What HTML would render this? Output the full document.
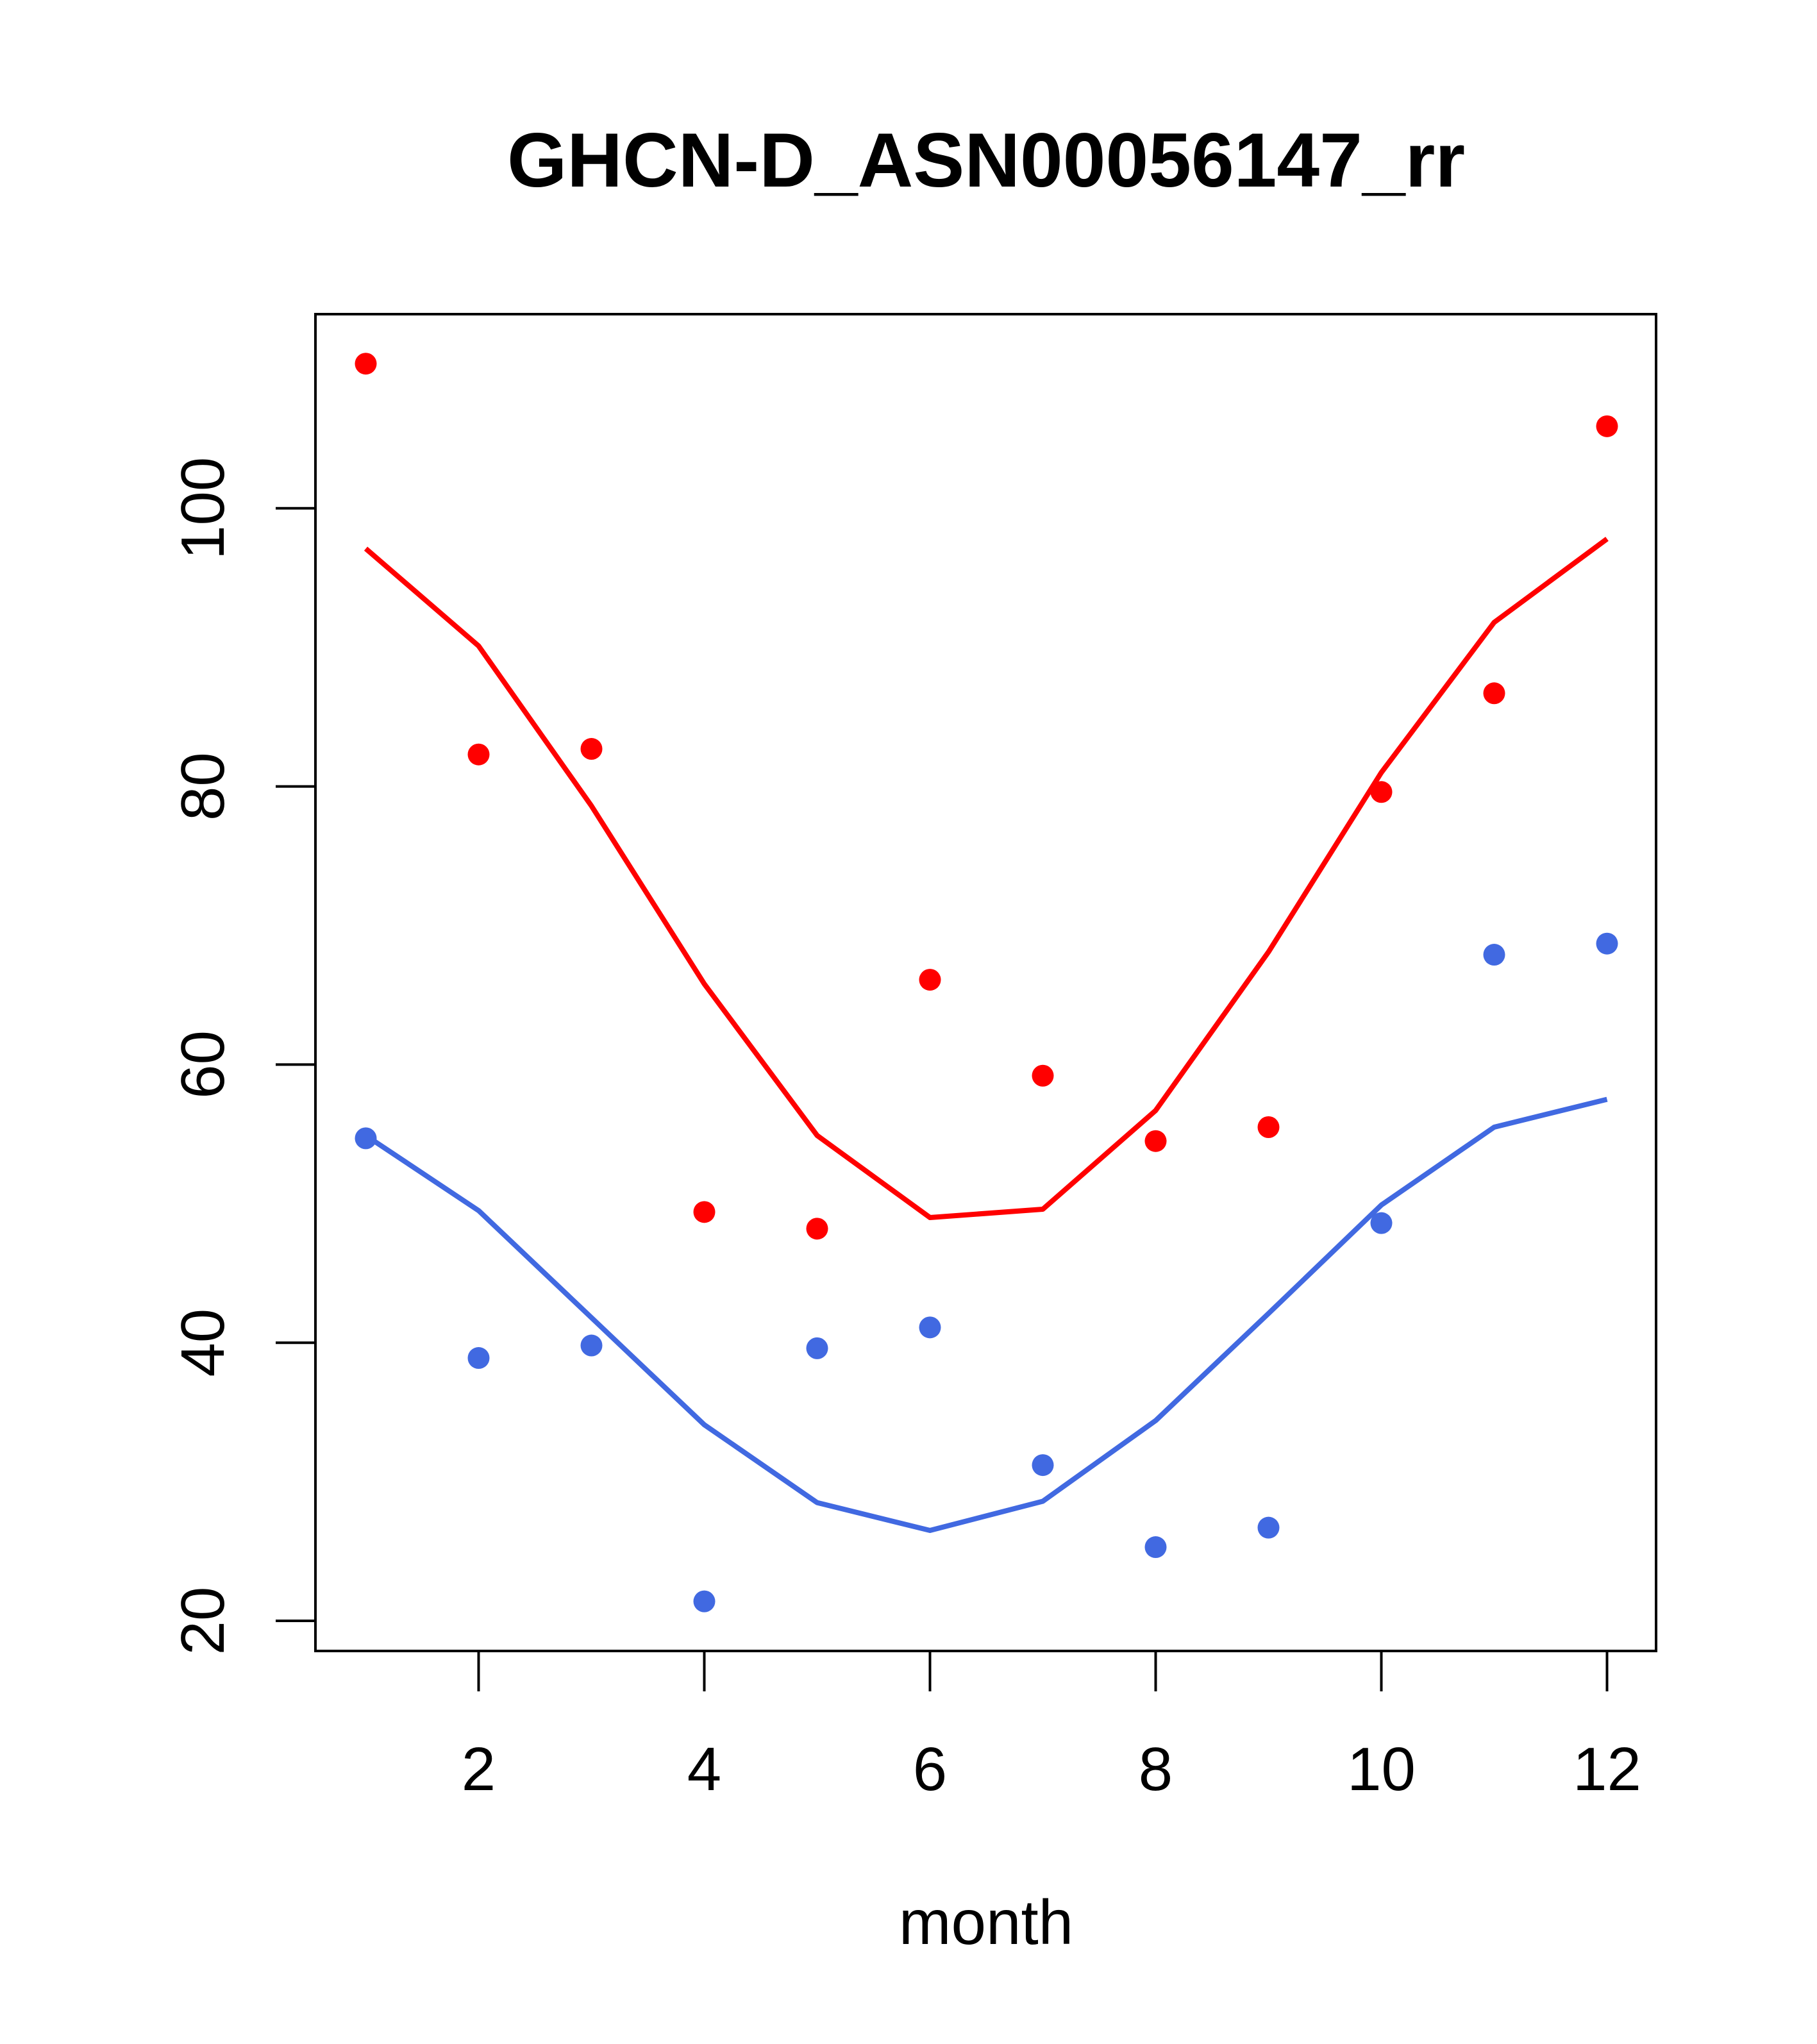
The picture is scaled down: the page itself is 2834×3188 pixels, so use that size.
<!DOCTYPE html>
<html><head><meta charset="utf-8"><style>
html,body{margin:0;padding:0;background:#fff;}
svg{display:block;font-family:"Liberation Sans",Arial,sans-serif;}
</style></head>
<body>
<svg id="chart" width="2834" height="3188" viewBox="0 0 2834 3188" xmlns="http://www.w3.org/2000/svg">
<rect width="2834" height="3188" fill="#fff"/>
<text x="1538" y="291" text-anchor="middle" font-size="120" font-weight="bold">GHCN-D_ASN00056147_rr</text>
<rect x="492" y="490" width="2091" height="2085" fill="none" stroke="#000" stroke-width="4"/>
<text x="1538" y="3032" text-anchor="middle" font-size="98">month</text>
<g id="marks"></g>
</svg>
<script>
const months=[1,2,3,4,5,6,7,8,9,10,11,12];
const redPoints=[110.4,82.3,82.7,49.4,48.2,66.1,59.2,54.5,55.5,79.6,86.7,105.9];
const redLine=[97.1,90.1,78.6,65.8,54.9,49.0,49.6,56.7,68.1,81.0,91.8,97.8];
const bluePoints=[54.7,38.9,39.8,21.4,39.6,41.1,31.2,25.3,26.7,48.6,67.9,68.7];
const blueLine=[54.9,49.5,41.8,34.1,28.5,26.5,28.6,34.4,42.1,49.9,55.5,57.5];
const xTicks=[2,4,6,8,10,12];
const yTicks=[20,40,60,80,100];

const NS="http://www.w3.org/2000/svg";
const g=document.getElementById('marks');
function xs(m){return 570.5+(m-1)*176;}
function ys(v){return 2528-(v-20)*21.69;}
function el(t,a){const e=document.createElementNS(NS,t);for(const k in a)e.setAttribute(k,a[k]);g.appendChild(e);return e;}

xTicks.forEach(t=>{
  const l=el('line',{x1:xs(t),x2:xs(t),y1:2575,y2:2638,stroke:'#000','stroke-width':4});
  
  
  const tx=el('text',{x:xs(t),y:2792,'text-anchor':'middle','font-size':96});
  tx.textContent=t;
  
  
});
yTicks.forEach(t=>{
  const l=el('line',{x1:430,x2:492,y1:ys(t),y2:ys(t),stroke:'#000','stroke-width':4});
  
  
  const tx=el('text',{x:0,y:0,'text-anchor':'middle','font-size':96,transform:`translate(349,${ys(t)}) rotate(-90)`});
  tx.textContent=t;
  
  
});
function line(vals,color,name){
  const p=el('polyline',{points:vals.map((v,i)=>xs(months[i])+','+ys(v)).join(' '),fill:'none',stroke:color,'stroke-width':8,'stroke-linejoin':'round'});
  
  
}
function pts(vals,color,name){
  vals.forEach((v,i)=>{
    const c=el('circle',{cx:xs(months[i]),cy:ys(v),r:17,fill:color});
    
    
  });
}
line(redLine,'#ff0000','red-line');
line(blueLine,'#4169e1','blue-line');
pts(redPoints,'#ff0000','red-point');
pts(bluePoints,'#4169e1','blue-point');
</script>
</body></html>
